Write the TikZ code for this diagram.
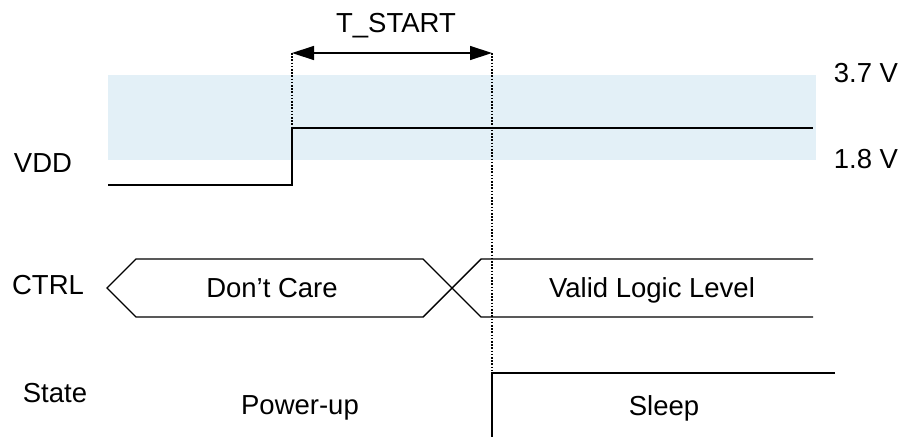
\documentclass[tikz,border=0pt]{standalone}
\usepackage{fontspec}
\setmainfont{Liberation Sans}
\usetikzlibrary{arrows.meta}
\definecolor{bandblue}{RGB}{227,240,247}
\begin{document}
\begin{tikzpicture}[x=1pt,y=-1pt,
  wave/.style={line width=1.4pt,line join=miter},
  dotline/.style={line width=1.2pt,dash pattern=on 1.6pt off 1.6pt},
  lbl/.style={inner sep=0pt,anchor=base,font=\fontsize{27.5}{32}\selectfont},
  dim/.style={line width=1.4pt,{Triangle[length=22pt,width=14pt]}-{Triangle[length=22pt,width=14pt]}}]
\useasboundingbox (0,0) rectangle (902,437);
% band
\fill[bandblue] (108,75) rectangle (816,160);
% coordinates
\coordinate (v0) at (108,185);
\coordinate (v1) at (292,185);
\coordinate (v2) at (292,128);
\coordinate (v3) at (813,128);
\coordinate (t0) at (292,53);
\coordinate (t1) at (492,53);
\coordinate (s0) at (492,373);
\coordinate (s1) at (835,373);
\coordinate (s2) at (492,437);
% VDD waveform
\draw[wave] (v0) -- (v1) -- (v2) -- (v3);
% CTRL bus
\coordinate (c0) at (107,288);
\coordinate (c1) at (136,259);
\coordinate (c2) at (423,259);
\coordinate (c3) at (423,317);
\coordinate (c4) at (136,317);
\coordinate (c5) at (481,259);
\coordinate (c6) at (481,317);
\coordinate (c7) at (813,259);
\coordinate (c8) at (813,317);
\draw[wave] (c7) -- (c5) -- (c3) -- (c4) -- (c0) -- (c1) -- (c2) -- (c6) -- (c8);
% state
\draw[wave] (s1) -- (s0) -- (s2);
% dotted markers
\draw[dotline] (t0) -- (v2);
\draw[dotline] (t1) -- (s0);
% dimension arrow
\draw[dim] (t0) -- (t1);
% labels
\node[lbl] (tstart) at (396,32) {T\_START};
\node[lbl] (v37) at (866,82) {3.7 V};
\node[lbl] (v18) at (866,168) {1.8 V};
\node[lbl] (vdd) at (43,172) {VDD};
\node[lbl] (ctrl) at (48,294) {CTRL};
\node[lbl] (state) at (55,402) {State};
\node[lbl] (dc) at (272,297) {Don’t Care};
\node[lbl] (vll) at (652,297) {Valid Logic Level};
\node[lbl] (pu) at (300,414) {Power-up};
\node[lbl] (sl) at (664,415) {Sleep};
\end{tikzpicture}
\end{document}
